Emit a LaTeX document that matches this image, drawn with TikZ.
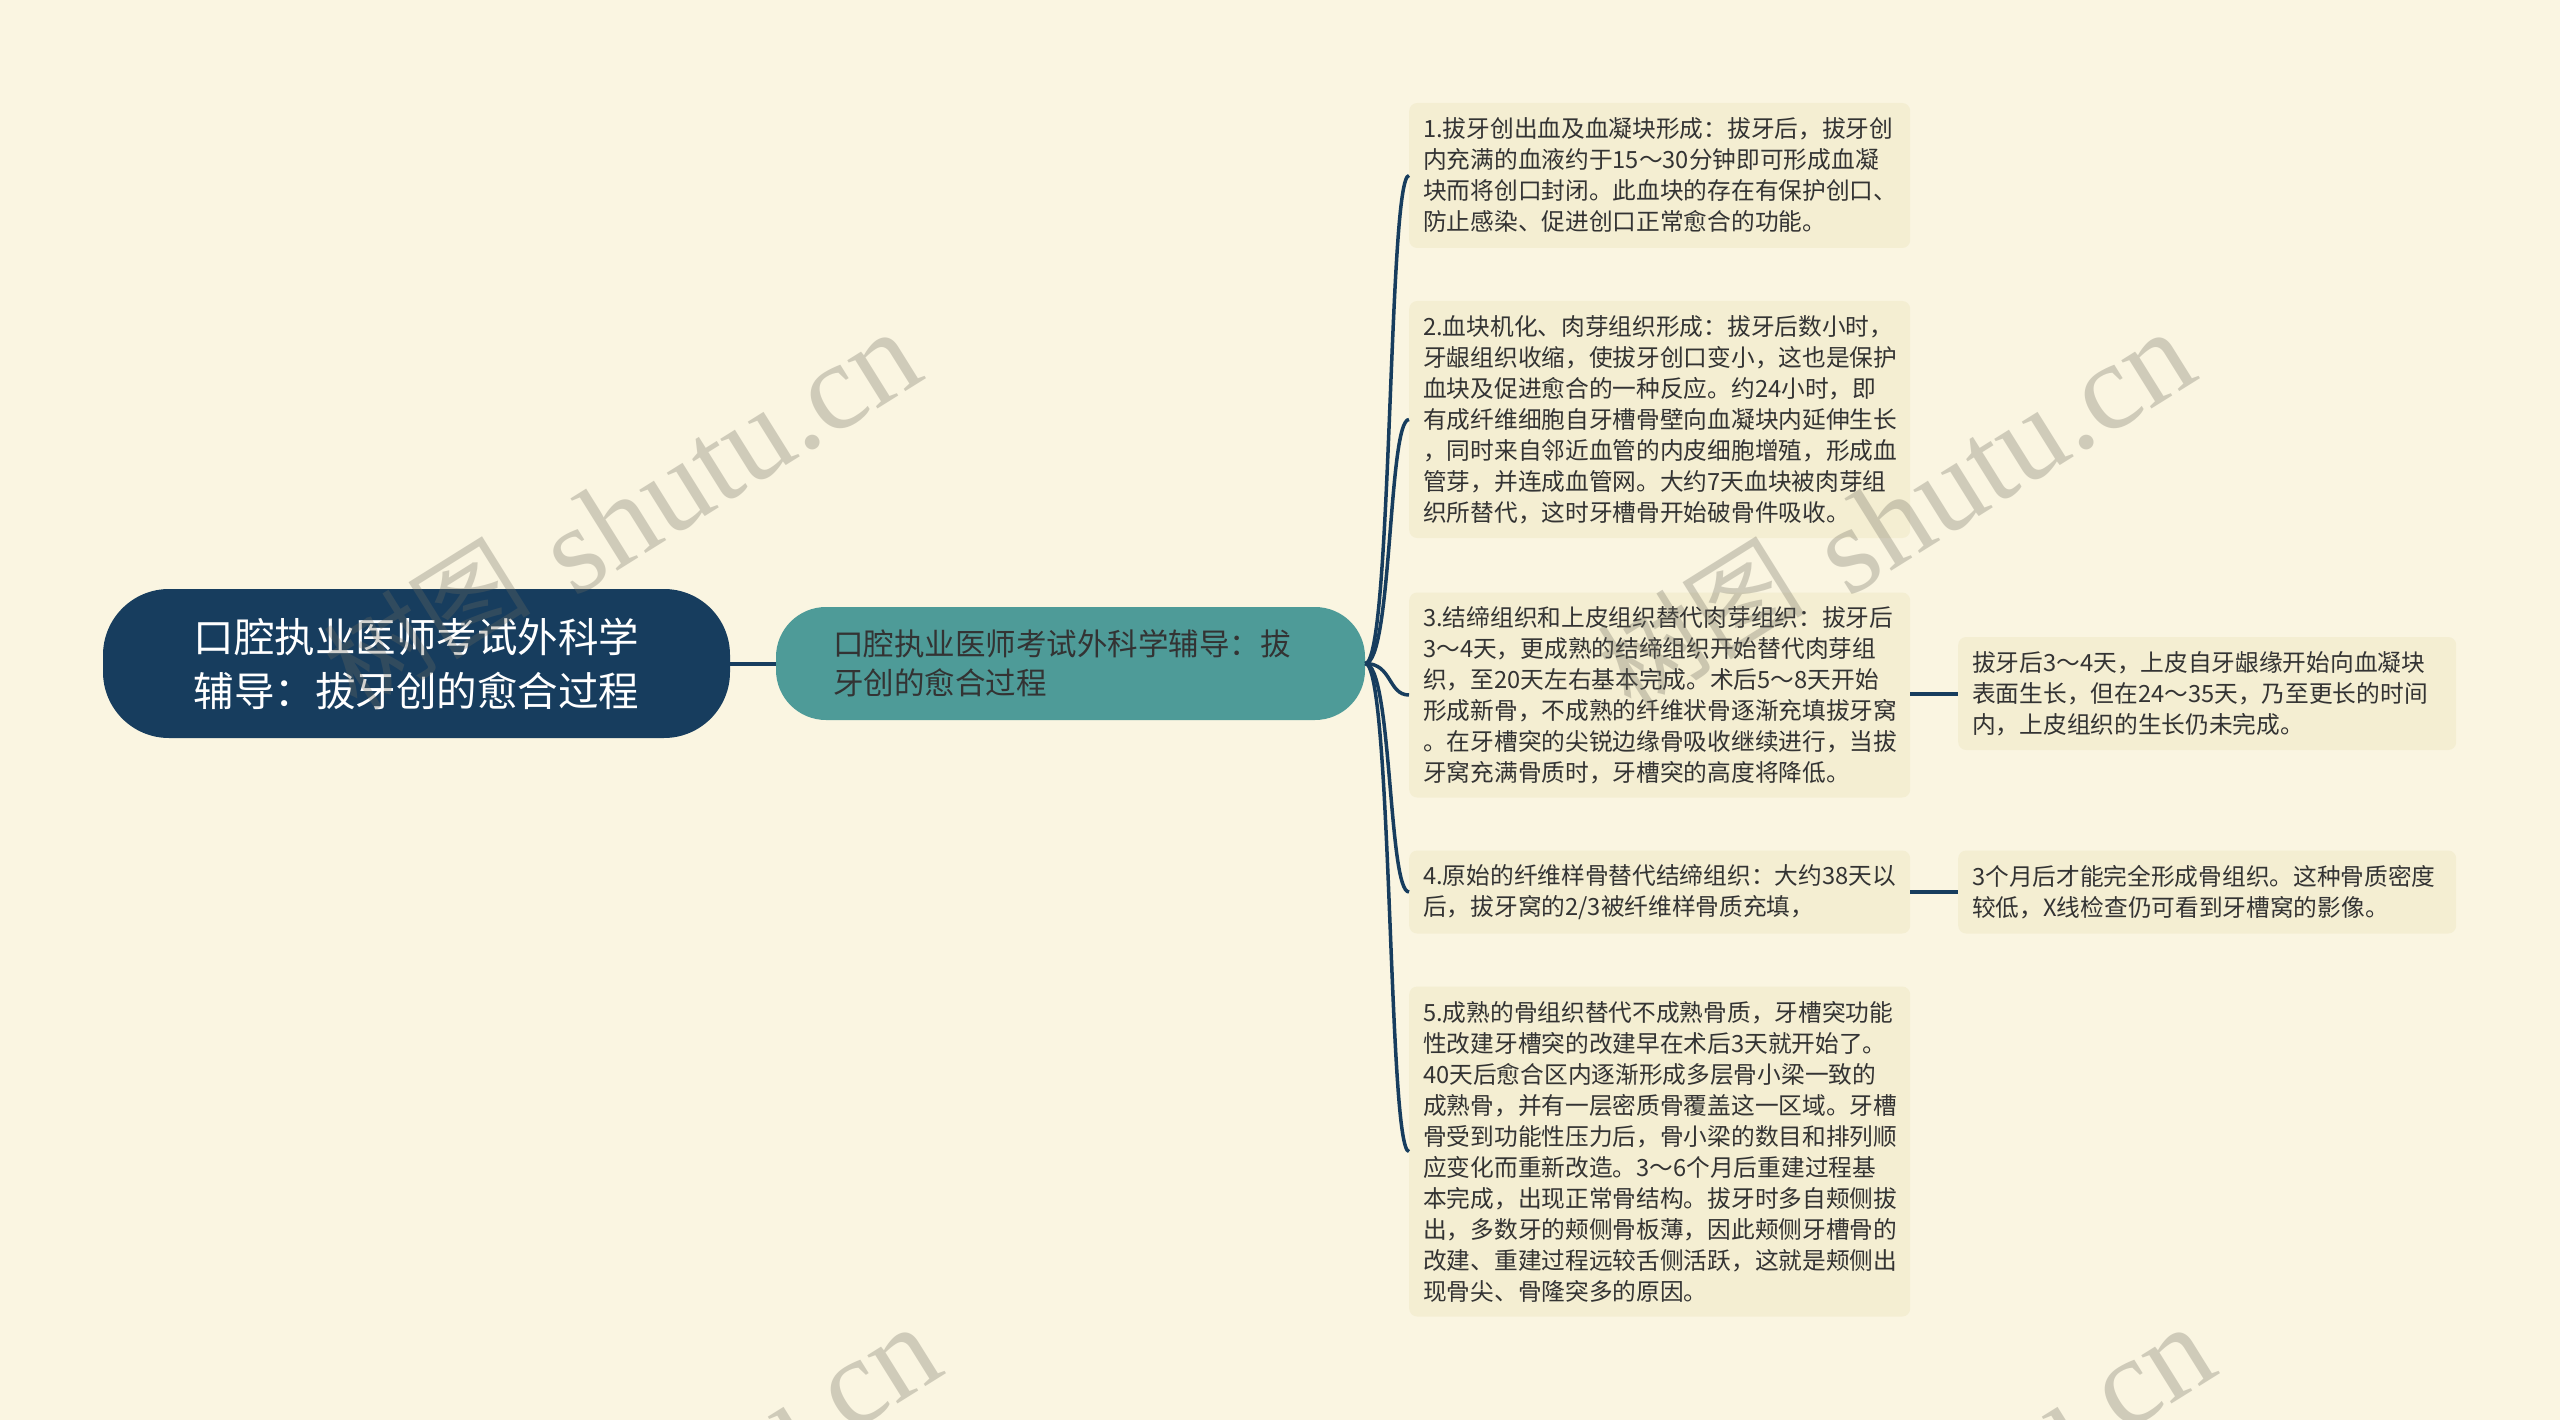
\documentclass[tikz,border=0pt]{standalone}
\usepackage{fontspec}
\setmainfont{Noto Sans CJK SC}
\newfontfamily\wmfont{Liberation Serif}
\definecolor{bg}{HTML}{FAF5E1}
\definecolor{boxfill}{HTML}{F4EED2}
\definecolor{navy}{HTML}{173D5E}
\definecolor{tealA}{HTML}{4E9B98}
\definecolor{txt}{HTML}{333333}
\definecolor{wm}{RGB}{110,108,95}
\begin{document}
\begin{tikzpicture}[x=1pt,y=-1pt,
  leaf/.style={fill=boxfill, rounded corners=8pt, text width=473pt, inner xsep=14pt, inner ysep=0pt,
    align=left, font=\fontsize{23.7}{31}\selectfont, text=txt, anchor=west},
  rootbox/.style={fill=navy, rounded corners=66pt, minimum width=627pt, minimum height=149pt,
    align=center, text=white, font=\fontsize{40.5}{54}\selectfont, inner sep=0pt},
  subbox/.style={fill=tealA, rounded corners=50pt, minimum height=113pt, text width=475pt, inner xsep=57pt,
    inner ysep=0pt, align=left, text=txt, font=\fontsize{30.5}{39}\selectfont},
  link/.style={draw=navy, line width=4pt},
  curve/.style={draw=navy, line width=3.5pt},
  wmk/.style={text=wm, opacity=0.3, rotate=32, inner sep=0pt},
]
\fill[bg] (0,0) rectangle (2560,1420);
\useasboundingbox (0,0) rectangle (2560,1420);

\node[rootbox] (root) at (416.5,663.5) {口腔执业医师考试外科学\\辅导：拔牙创的愈合过程};
\node[subbox] (sub) at (1070.5,663.5) {口腔执业医师考试外科学辅导：拔\\牙创的愈合过程};

\node[leaf, minimum height=145pt] (c1) at (1409,175.5) {1.拔牙创出血及血凝块形成：拔牙后，拔牙创\\内充满的血液约于15～30分钟即可形成血凝\\块而将创口封闭。此血块的存在有保护创口、\\防止感染、促进创口正常愈合的功能。};
\node[leaf, minimum height=237pt] (c2) at (1409,419.5) {2.血块机化、肉芽组织形成：拔牙后数小时，\\牙龈组织收缩，使拔牙创口变小，这也是保护\\血块及促进愈合的一种反应。约24小时，即\\有成纤维细胞自牙槽骨壁向血凝块内延伸生长\\，同时来自邻近血管的内皮细胞增殖，形成血\\管芽，并连成血管网。大约7天血块被肉芽组\\织所替代，这时牙槽骨开始破骨件吸收。};
\node[leaf, minimum height=205pt] (c3) at (1409,695) {3.结缔组织和上皮组织替代肉芽组织：拔牙后\\3～4天，更成熟的结缔组织开始替代肉芽组\\织，至20天左右基本完成。术后5～8天开始\\形成新骨，不成熟的纤维状骨逐渐充填拔牙窝\\。在牙槽突的尖锐边缘骨吸收继续进行，当拔\\牙窝充满骨质时，牙槽突的高度将降低。};
\node[leaf, minimum height=83pt] (c4) at (1409,892) {4.原始的纤维样骨替代结缔组织：大约38天以\\后，拔牙窝的2/3被纤维样骨质充填，};
\node[leaf, minimum height=330pt] (c5) at (1409,1151.5) {5.成熟的骨组织替代不成熟骨质，牙槽突功能\\性改建牙槽突的改建早在术后3天就开始了。\\40天后愈合区内逐渐形成多层骨小梁一致的\\成熟骨，并有一层密质骨覆盖这一区域。牙槽\\骨受到功能性压力后，骨小梁的数目和排列顺\\应变化而重新改造。3～6个月后重建过程基\\本完成，出现正常骨结构。拔牙时多自颊侧拔\\出，多数牙的颊侧骨板薄，因此颊侧牙槽骨的\\改建、重建过程远较舌侧活跃，这就是颊侧出\\现骨尖、骨隆突多的原因。};

\node[leaf, text width=470pt, minimum height=113pt] (r3) at (1958,693.5) {拔牙后3～4天，上皮自牙龈缘开始向血凝块\\表面生长，但在24～35天，乃至更长的时间\\内，上皮组织的生长仍未完成。};
\node[leaf, text width=470pt, minimum height=83pt] (r4) at (1958,892) {3个月后才能完全形成骨组织。这种骨质密度\\较低，X线检查仍可看到牙槽窝的影像。};

\draw[link] (root.east) -- (sub.west);
\foreach \c in {c1,c2,c3,c4,c5}{
  \draw[curve] (sub.east) .. controls ([xshift=27pt]sub.east) and ([xshift=-21pt]\c.west) .. (\c.west);
}
\draw[link] (c3.east |- r3.west) -- (r3.west);
\draw[link] (c4.east) -- (r4.west);

\foreach \dx/\dy in {0/0,1274/0,20/995,1294/995}{
  \node[wmk, font=\wmfont\fontsize{124}{124}\selectfont] (wa) at (729+\dx,452+\dy) {shutu.cn};
  \node[wmk, font=\fontsize{104}{104}\selectfont] (wb) at (425+\dx,624+\dy) {树图};
}
\end{tikzpicture}
\end{document}
